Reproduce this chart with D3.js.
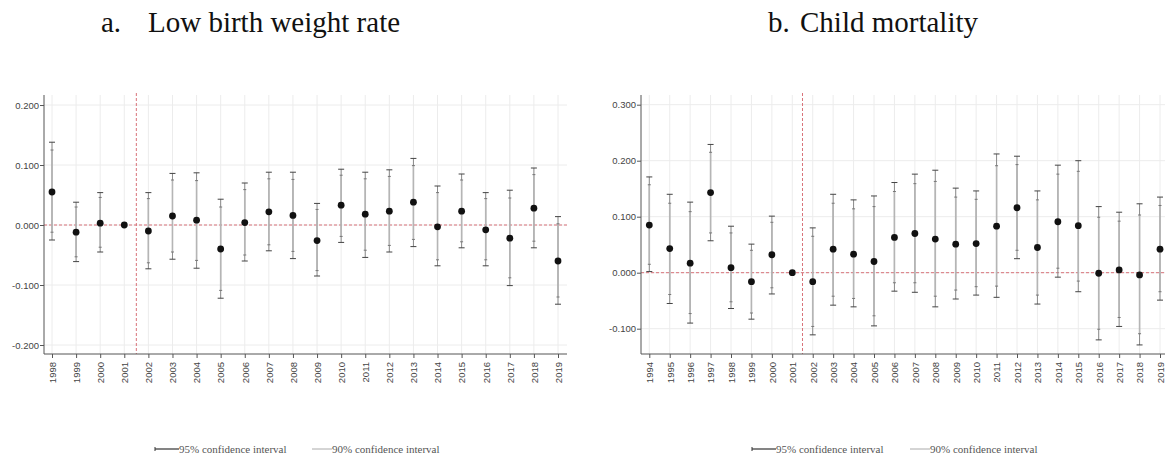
<!DOCTYPE html>
<html>
<head>
<meta charset="utf-8">
<script src="https://cdn.jsdelivr.net/npm/d3@7"></script>
<style>
  html, body { margin: 0; padding: 0; background: #fff; }
  svg { display: block; }
</style>
</head>
<body>
<svg id="chart" width="1169" height="464"></svg>
<script>
// ---------- DATA ----------
const yearsA = [1998,1999,2000,2001,2002,2003,2004,2005,2006,2007,2008,2009,2010,2011,2012,2013,2014,2015,2016,2017,2018,2019];
const estA  = [0.055,-0.012,0.003,0,-0.010,0.015,0.008,-0.040,0.004,0.022,0.016,-0.026,0.033,0.018,0.023,0.038,-0.003,0.023,-0.008,-0.022,0.028,-0.060];
const hi95A = [0.138,0.038,0.054,0,0.054,0.086,0.087,0.043,0.070,0.088,0.088,0.036,0.093,0.088,0.092,0.111,0.065,0.085,0.054,0.058,0.095,0.014];
const lo95A = [-0.025,-0.061,-0.045,0,-0.073,-0.057,-0.072,-0.122,-0.060,-0.043,-0.056,-0.085,-0.029,-0.054,-0.045,-0.036,-0.068,-0.038,-0.068,-0.101,-0.038,-0.132];
const hi90A = [0.125,0.030,0.046,0,0.044,0.075,0.074,0.030,0.059,0.077,0.076,0.026,0.083,0.077,0.081,0.099,0.054,0.075,0.044,0.045,0.084,0.002];
const lo90A = [-0.012,-0.053,-0.037,0,-0.063,-0.045,-0.059,-0.109,-0.050,-0.033,-0.044,-0.076,-0.019,-0.042,-0.034,-0.024,-0.058,-0.028,-0.058,-0.088,-0.027,-0.120];
const yTicksA = [-0.2,-0.1,0,0.1,0.2];

const yearsB = [1994,1995,1996,1997,1998,1999,2000,2001,2002,2003,2004,2005,2006,2007,2008,2009,2010,2011,2012,2013,2014,2015,2016,2017,2018,2019];
const estB  = [0.085,0.043,0.017,0.143,0.009,-0.016,0.032,0,-0.016,0.042,0.033,0.020,0.063,0.070,0.060,0.051,0.052,0.083,0.116,0.045,0.091,0.084,-0.001,0.005,-0.004,0.042];
const hi95B = [0.171,0.140,0.126,0.229,0.083,0.051,0.101,0,0.080,0.140,0.130,0.137,0.161,0.176,0.183,0.151,0.146,0.212,0.208,0.146,0.192,0.200,0.118,0.108,0.123,0.135];
const lo95B = [0.002,-0.055,-0.090,0.057,-0.064,-0.083,-0.038,0,-0.111,-0.058,-0.061,-0.095,-0.033,-0.035,-0.061,-0.047,-0.040,-0.044,0.025,-0.056,-0.008,-0.034,-0.120,-0.096,-0.129,-0.049];
const hi90B = [0.157,0.124,0.109,0.215,0.071,0.040,0.090,0,0.065,0.124,0.114,0.118,0.145,0.159,0.163,0.135,0.131,0.191,0.193,0.130,0.176,0.181,0.099,0.092,0.103,0.120];
const lo90B = [0.015,-0.039,-0.073,0.071,-0.052,-0.072,-0.027,0,-0.096,-0.042,-0.046,-0.077,-0.018,-0.018,-0.042,-0.031,-0.025,-0.024,0.040,-0.040,0.008,-0.015,-0.101,-0.080,-0.109,-0.034];
const yTicksB = [-0.1,0,0.1,0.2,0.3];

const treatmentYear = 2001.5;
const titleLetters = ["a.", "b."];
const titleTexts = ["Low birth weight rate", "Child mortality"];
const legendLabels = ["95% confidence interval", "90% confidence interval"];

// ---------- DRAW ----------
const svg = d3.select("#chart");
const fmt = d => d.toFixed(3);

function drawPanel(o) {
  const g = svg.append("g");
  const x = d3.scaleLinear().domain([o.years[0], o.years[o.years.length - 1]]).range(o.xr);
  const y = d3.scaleLinear().domain(o.yd).range([o.bottom, o.top]);

  // gridlines
  g.selectAll(".vg").data(o.years).enter().append("line")
    .attr("x1", d => x(d)).attr("x2", d => x(d))
    .attr("y1", o.top).attr("y2", o.bottom)
    .attr("stroke", "#ececec").attr("stroke-width", 1);
  g.selectAll(".hg").data(o.ticks).enter().append("line")
    .attr("x1", o.axisX).attr("x2", o.right)
    .attr("y1", d => y(d)).attr("y2", d => y(d))
    .attr("stroke", "#ececec").attr("stroke-width", 1);

  // reference lines
  g.append("line").attr("x1", o.axisX).attr("x2", o.right)
    .attr("y1", y(0)).attr("y2", y(0))
    .attr("stroke", "#d9737a").attr("stroke-width", 1).attr("stroke-dasharray", "3,2");
  g.append("line").attr("x1", x(treatmentYear)).attr("x2", x(treatmentYear))
    .attr("y1", o.top - 2).attr("y2", o.bottom)
    .attr("stroke", "#d9737a").attr("stroke-width", 1).attr("stroke-dasharray", "3,2");

  // axes
  const ya = d3.axisLeft(y).tickValues(o.ticks).tickFormat(fmt).tickSize(4).tickSizeOuter(0);
  const yg = g.append("g").attr("transform", `translate(${o.axisX},0)`).call(ya);
  yg.select(".domain").attr("d", `M0,${o.top}V${o.bottom}`).attr("stroke", "#555");
  yg.selectAll(".tick line").attr("stroke", "#555");
  yg.selectAll("text").attr("font-family", "Liberation Sans, Arial, sans-serif")
    .attr("font-size", 9.5).attr("fill", "#444").attr("x", -5);

  const xa = d3.axisBottom(x).tickValues(o.years).tickFormat(d => String(d)).tickSize(4).tickSizeOuter(0);
  const xg = g.append("g").attr("transform", `translate(0,${o.bottom})`).call(xa);
  xg.select(".domain").attr("d", `M${o.axisX},0H${o.right}`).attr("stroke", "#555");
  xg.selectAll(".tick line").attr("stroke", "#555");
  xg.selectAll("text").attr("font-family", "Liberation Sans, Arial, sans-serif")
    .attr("font-size", 9.5).attr("fill", "#444")
    .attr("transform", "rotate(-90)").attr("text-anchor", "end")
    .attr("x", -8).attr("y", 0).attr("dy", "0.35em");

  const rows = o.years.map((yr, i) => ({ yr, e: o.est[i], l95: o.lo95[i], h95: o.hi95[i], l90: o.lo90[i], h90: o.hi90[i] }))
    .filter(d => d.h95 !== d.l95);

  // 95% CI
  g.selectAll(".ci95").data(rows).enter().append("line")
    .attr("x1", d => x(d.yr)).attr("x2", d => x(d.yr))
    .attr("y1", d => y(d.l95)).attr("y2", d => y(d.h95))
    .attr("stroke", "#8a8a8a").attr("stroke-width", 1);
  ["l95", "h95"].forEach(k => {
    g.selectAll(".cap" + k).data(rows).enter().append("line")
      .attr("x1", d => x(d.yr) - 3).attr("x2", d => x(d.yr) + 3)
      .attr("y1", d => y(d[k])).attr("y2", d => y(d[k]))
      .attr("stroke", "#444").attr("stroke-width", 1);
  });
  // 90% CI
  g.selectAll(".ci90").data(rows).enter().append("line")
    .attr("x1", d => x(d.yr)).attr("x2", d => x(d.yr))
    .attr("y1", d => y(d.l90)).attr("y2", d => y(d.h90))
    .attr("stroke", "#b5b5b5").attr("stroke-width", 1.6);
  ["l90", "h90"].forEach(k => {
    g.selectAll(".cap" + k).data(rows).enter().append("line")
      .attr("x1", d => x(d.yr) - 1.5).attr("x2", d => x(d.yr) + 1.5)
      .attr("y1", d => y(d[k])).attr("y2", d => y(d[k]))
      .attr("stroke", "#777").attr("stroke-width", 1);
  });

  // points
  g.selectAll(".pt").data(o.years.map((yr, i) => ({ yr, e: o.est[i] }))).enter().append("circle")
    .attr("cx", d => x(d.yr)).attr("cy", d => y(d.e)).attr("r", 3.4)
    .attr("fill", "#111");

  // title
  const tf = "Liberation Serif, Times New Roman, serif";
  g.append("text").attr("x", o.tLetterX).attr("y", 32).text(o.letter)
    .attr("font-family", tf).attr("font-size", 29).attr("fill", "#111");
  g.append("text").attr("x", o.tTextX).attr("y", 32).text(o.title)
    .attr("font-family", tf).attr("font-size", 29).attr("fill", "#111");

  // legend
  const ly = 449;
  const lf = "Liberation Serif, Times New Roman, serif";
  g.append("line").attr("x1", o.legX).attr("x2", o.legX + 24).attr("y1", ly).attr("y2", ly)
    .attr("stroke", "#333").attr("stroke-width", 1.2);
  g.append("line").attr("x1", o.legX).attr("x2", o.legX).attr("y1", ly - 2).attr("y2", ly + 2)
    .attr("stroke", "#333").attr("stroke-width", 1);
  g.append("text").attr("x", o.legX + 24).attr("y", ly).attr("dy", "0.35em").text(legendLabels[0])
    .attr("font-family", lf).attr("font-size", 11).attr("fill", "#555");
  g.append("line").attr("x1", o.legX2).attr("x2", o.legX2 + 20).attr("y1", ly).attr("y2", ly)
    .attr("stroke", "#aaa").attr("stroke-width", 1);
  g.append("text").attr("x", o.legX2 + 20).attr("y", ly).attr("dy", "0.35em").text(legendLabels[1])
    .attr("font-family", lf).attr("font-size", 11).attr("fill", "#555");
}

drawPanel({
  years: yearsA, est: estA, lo95: lo95A, hi95: hi95A, lo90: lo90A, hi90: hi90A,
  ticks: yTicksA, xr: [52, 558], yd: [-0.215, 0.2167], top: 95, bottom: 354,
  axisX: 44, right: 567, letter: titleLetters[0], title: titleTexts[0],
  tLetterX: 101, tTextX: 148, legX: 155, legX2: 312
});
drawPanel({
  years: yearsB, est: estB, lo95: lo95B, hi95: hi95B, lo90: lo90B, hi90: hi90B,
  ticks: yTicksB, xr: [649.3, 1160], yd: [-0.1452, 0.3173], top: 95, bottom: 354,
  axisX: 641, right: 1165, letter: titleLetters[1], title: titleTexts[1],
  tLetterX: 768, tTextX: 800, legX: 752, legX2: 910
});
</script>
</body>
</html>
